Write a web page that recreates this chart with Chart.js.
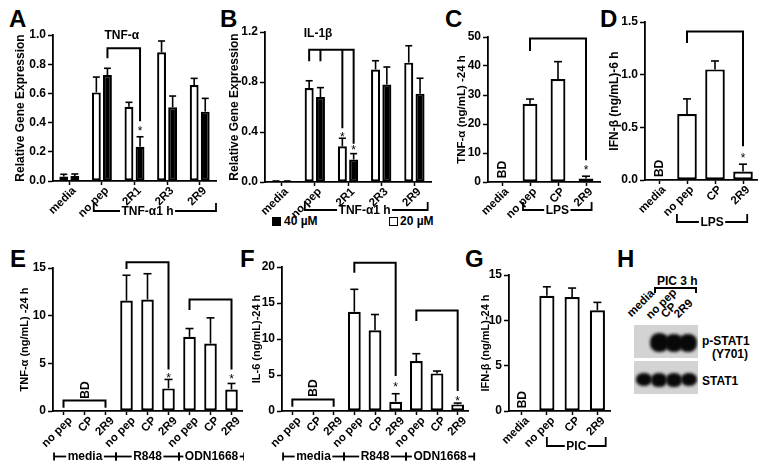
<!DOCTYPE html>
<html><head><meta charset="utf-8">
<script src="https://cdn.jsdelivr.net/npm/chart.js@4.4.1/dist/chart.umd.min.js"></script>
<style>
html,body{margin:0;padding:0;background:#fff;}
body{position:relative;width:762px;height:472px;overflow:hidden;font-family:"Liberation Sans",Arial,sans-serif;font-weight:bold;color:#000;}
canvas{position:absolute;}
.pl{position:absolute;font-size:24px;line-height:24px;font-weight:bold;}
.tx{position:absolute;font-size:12px;line-height:14px;font-weight:bold;white-space:nowrap;}
.rt{position:absolute;font-size:11.5px;line-height:12px;font-weight:bold;white-space:nowrap;transform-origin:0 100%;transform:rotate(-45deg);}
.blot{position:absolute;background:#d3d3d3;overflow:hidden;}
.band{position:absolute;background:#080808;border-radius:45%;filter:blur(1.5px);}
.ln{position:absolute;background:#000;}
.sq{position:absolute;width:7px;height:7px;border:1px solid #000;}
</style></head><body>
<div class="pl" style="left:9px;top:7px">A</div>
<div class="pl" style="left:220px;top:7px">B</div>
<div class="pl" style="left:445px;top:7px">C</div>
<div class="pl" style="left:600px;top:7px">D</div>
<div class="pl" style="left:10px;top:247px">E</div>
<div class="pl" style="left:240px;top:247px">F</div>
<div class="pl" style="left:465px;top:247px">G</div>
<div class="pl" style="left:617px;top:247px">H</div>

<!-- legend -->
<div class="sq" style="left:272px;top:217px;background:#000"></div>
<div class="tx" style="left:284px;top:214px">40 µM</div>
<div class="sq" style="left:389px;top:217px;background:#fff"></div>
<div class="tx" style="left:400px;top:214px">20 µM</div>

<!-- panel H (western blot image) -->
<div class="tx" style="left:657px;top:274px">PIC 3 h</div>
<div class="ln" style="left:654px;top:287px;width:43px;height:2px"></div>
<div class="ln" style="left:654px;top:287px;width:2px;height:6px"></div>
<div class="ln" style="left:695px;top:287px;width:2px;height:6px"></div>
<div class="rt" style="left:633px;top:307px">media</div>
<div class="rt" style="left:652px;top:309px">no pep</div>
<div class="rt" style="left:667px;top:308px">CP</div>
<div class="rt" style="left:680px;top:308px">2R9</div>
<div class="blot" style="left:634px;top:325px;width:64px;height:33px">
  <div class="band" style="left:16px;top:8px;width:19px;height:19px"></div>
  <div class="band" style="left:31px;top:9px;width:18px;height:18px"></div>
  <div class="band" style="left:45px;top:9px;width:18px;height:18px"></div>
</div>
<div class="blot" style="left:634px;top:361px;width:64px;height:33px">
  <div class="band" style="left:2px;top:12px;width:16px;height:13px"></div>
  <div class="band" style="left:17px;top:12px;width:16px;height:14px"></div>
  <div class="band" style="left:32px;top:12px;width:16px;height:14px"></div>
  <div class="band" style="left:47px;top:12px;width:16px;height:13px"></div>
</div>
<div class="tx" style="left:702px;top:334px">p-STAT1</div>
<div class="tx" style="left:712px;top:347px">(Y701)</div>
<div class="tx" style="left:702px;top:374px">STAT1</div>

<script>
// ---------------- DATA ----------------
// Panel A: TNF-α relative gene expression
const catsA = ['media', 'no pep', '2R1', '2R3', '2R9'];
const a20 = [0.03, 0.607, 0.509, 0.881, 0.658];
const a20Err = [0.016, 0.105, 0.03, 0.078, 0.045];
const a40 = [0.034, 0.726, 0.235, 0.505, 0.475];
const a40Err = [0.014, 0.046, 0.068, 0.077, 0.091];

// Panel B: IL-1β relative gene expression
const catsB = ['media', 'no pep', '2R1', '2R3', '2R9'];
const b20 = [0.005, 0.752, 0.286, 0.90, 0.955];
const b20Err = [0.003, 0.058, 0.064, 0.07, 0.135];
const b40 = [0.005, 0.68, 0.18, 0.78, 0.707];
const b40Err = [0.003, 0.075, 0.047, 0.14, 0.123];

// Panel C: TNF-α (ng/mL) 24 h, LPS
const catsC = ['media', 'no pep', 'CP', '2R9'];
const cVals = [null, 27.0, 35.5, 1.2];
const cErr = [null, 1.6, 6.0, 0.8];

// Panel D: IFN-β (ng/mL) 6 h, LPS
const catsD = ['media', 'no pep', 'CP', '2R9'];
const dVals = [null, 0.626, 1.05, 0.08];
const dErr = [null, 0.144, 0.08, 0.07];

// Panel E: TNF-α (ng/mL) 24 h
const catsE = ['no pep', 'CP', '2R9', 'no pep', 'CP', '2R9', 'no pep', 'CP', '2R9'];
const eVals = [null, null, null, 11.58, 11.69, 2.37, 7.78, 7.08, 2.26];
const eErr = [null, null, null, 2.66, 2.71, 0.94, 0.87, 2.69, 0.63];

// Panel F: IL-6 (ng/mL) 24 h
const catsF = ['no pep', 'CP', '2R9', 'no pep', 'CP', '2R9', 'no pep', 'CP', '2R9'];
const fVals = [null, null, null, 13.79, 11.2, 1.29, 6.94, 5.22, 0.92];
const fErr = [null, null, null, 3.11, 2.2, 1.11, 1.02, 0.33, 0.18];

// Panel G: IFN-β (ng/mL) 24 h, PIC
const catsG = ['media', 'no pep', 'CP', '2R9'];
const gVals = [null, 12.7, 12.56, 11.1];
const gErr = [null, 1.0, 1.0, 0.88];

const groupsEF = ['media', 'R848', 'ODN1668'];

// ---------------- RENDERING ----------------
Chart.defaults.font.family = '"Liberation Sans", Arial, sans-serif';
Chart.defaults.font.weight = 'bold';
Chart.defaults.font.size = 12;
Chart.defaults.color = '#000';

const FONT = (s, w) => `${w || 'bold'} ${s}px "Liberation Sans", Arial, sans-serif`;

const annotPlugin = {
  id: 'annot',
  afterDraw(chart) {
    const o = chart.options.plugins.annot;
    if (!o) return;
    const ctx = chart.ctx, xs = chart.scales.x, ys = chart.scales.y;
    const cw = xs.getPixelForValue(1) - xs.getPixelForValue(0);
    const px = i => xs.getPixelForValue(i);
    const py = v => ys.getPixelForValue(v);
    const bx = (ds, i) => chart.getDatasetMeta(ds).data[i].x;
    const base = chart.chartArea.bottom;
    ctx.save();
    ctx.strokeStyle = '#000'; ctx.fillStyle = '#000'; ctx.lineJoin = 'miter'; ctx.lineCap = 'butt';
    const line = (pts, w) => {
      ctx.lineWidth = w || 1.6;
      ctx.beginPath(); ctx.moveTo(pts[0][0], pts[0][1]);
      for (let k = 1; k < pts.length; k++) ctx.lineTo(pts[k][0], pts[k][1]);
      ctx.stroke();
    };
    // error bars (upper)
    chart.data.datasets.forEach((d, di) => {
      if (!d.errors) return;
      chart.getDatasetMeta(di).data.forEach((el, i) => {
        const v = d.data[i], e = d.errors[i];
        if (v == null || e == null) return;
        const x = el.x, yt = py(v + e), yb = py(v);
        line([[x, yb], [x, yt]], 1.6);
        line([[x - o.cap, yt], [x + o.cap, yt]], 1.6);
      });
    });
    // significance brackets
    (o.brackets || []).forEach(b => {
      const legs = b.legs.map(l => ({x: bx(l[0], l[1]), y: py(l[2])})).sort((p, q) => p.x - q.x);
      const yt = py(b.top);
      const f = legs[0], l = legs[legs.length - 1];
      line([[f.x, f.y], [f.x, yt], [l.x, yt], [l.x, l.y]], 2);
      for (let k = 1; k < legs.length - 1; k++) line([[legs[k].x, yt], [legs[k].x, legs[k].y]], 2);
    });
    // asterisks
    const ss = o.starSize || 12;
    ctx.font = FONT(ss, 'normal'); ctx.textAlign = 'center'; ctx.textBaseline = 'alphabetic';
    (o.stars || []).forEach(s => ctx.fillText('*', bx(s[0], s[1]), py(s[2]) + 0.58 * ss));
    // BD labels
    const bd = (x, y) => {
      ctx.save(); ctx.translate(x, y); ctx.rotate(-Math.PI / 2);
      ctx.font = FONT(12); ctx.textAlign = 'center'; ctx.textBaseline = 'middle';
      ctx.fillText('BD', 0, 1); ctx.restore();
    };
    (o.bd || []).forEach(b => bd(px(b[0]), py(b[1])));
    if (o.bdBr) {
      const b = o.bdBr;
      const x0 = px(b.i0), x1 = px(b.i1), y = py(b.v), yl = py(b.legV);
      line([[x0, yl], [x0, y], [x1, y], [x1, yl]], 2);
      bd(px(b.textXi), py(b.textV));
    }
    // panel title
    if (o.title) {
      ctx.font = FONT(12); ctx.textAlign = 'center'; ctx.textBaseline = 'middle';
      ctx.fillText(o.title.text, px(o.title.xi), py(o.title.v));
    }
    // group labels under the axis
    if (o.groups) {
      const g = o.groups, y = base + g.dy;
      ctx.font = FONT(g.size || 12); ctx.textAlign = 'center'; ctx.textBaseline = 'middle';
      const segs = g.segs.map((s, k) => {
        let x0 = px(s.i0) + (s.lo || 0) * cw, x1 = px(s.i1) + (s.ro || 0) * cw;
        if (g.style === 'sep') {
          if (k > 0) x0 = (px(g.segs[k - 1].i1) + px(s.i0)) / 2;
          if (k < g.segs.length - 1) x1 = (px(s.i1) + px(g.segs[k + 1].i0)) / 2;
        }
        return {x0, x1, text: s.text, tx: s.tx};
      });
      segs.forEach(s => {
        const tw = ctx.measureText(s.text).width;
        const cx = s.tx != null ? px(s.tx) : (s.x0 + s.x1) / 2, gap = 1.5;
        if (g.style === 'up') {
          line([[s.x0, y - g.leg], [s.x0, y], [cx - tw / 2 - gap, y]], 1.8);
          line([[cx + tw / 2 + gap, y], [s.x1, y], [s.x1, y - g.leg]], 1.8);
        } else {
          line([[s.x0, y], [cx - tw / 2 - gap, y]], 1.8);
          line([[cx + tw / 2 + gap, y], [s.x1, y]], 1.8);
          line([[s.x0, y - g.leg], [s.x0, y + g.leg]], 1.8);
          line([[s.x1, y - g.leg], [s.x1, y + g.leg]], 1.8);
        }
        ctx.fillText(s.text, cx, y + 0.5);
      });
    }
    ctx.restore();
  }
};

function makeChart(cfg) {
  const {L, T, R, B, yW, padT, xH, padR} = cfg.box;
  const cv = document.createElement('canvas');
  const w = R - L + yW + padR, h = B - T + padT + xH;
  cv.width = w; cv.height = h;
  cv.style.left = (L - yW) + 'px'; cv.style.top = (T - padT) + 'px';
  cv.style.width = w + 'px'; cv.style.height = h + 'px';
  document.body.appendChild(cv);
  const datasets = cfg.series.map(s => ({
    data: s.data, errors: s.err,
    backgroundColor: s.color, borderColor: '#000', borderWidth: 2.2, borderSkipped: false,
    categoryPercentage: cfg.catPct, barPercentage: cfg.barPct
  }));
  new Chart(cv, {
    type: 'bar',
    data: {labels: cfg.labels, datasets},
    options: {
      responsive: false, animation: false, devicePixelRatio: 1,
      layout: {padding: {left: 0, top: padT, right: padR, bottom: 0}},
      plugins: {legend: {display: false}, tooltip: {enabled: false}, annot: cfg.annot},
      scales: {
        x: {
          grid: {display: true, drawOnChartArea: false, offset: false, tickLength: 4, tickWidth: 1.5, tickColor: '#000'},
          border: {display: true, color: '#000', width: 1.8},
          ticks: {autoSkip: false, maxRotation: 45, minRotation: 45, padding: -1, labelOffset: cfg.lOff,
                  font: {size: cfg.xFont, weight: 'bold'}},
          afterFit(s) { s.height = xH; s.paddingLeft = 0; s.paddingRight = 0; }
        },
        y: {
          min: 0, max: cfg.ymax,
          ticks: {stepSize: cfg.step, padding: 2, font: {size: 12, weight: 'bold'},
                  callback: v => cfg.dec ? Number(v).toFixed(cfg.dec) : v},
          grid: {display: true, drawOnChartArea: false, tickLength: 5, tickWidth: 1.5, tickColor: '#000'},
          border: {display: true, color: '#000', width: 1.8},
          title: {display: true, text: cfg.ytitle, padding: 0, font: {size: cfg.tFont, weight: 'bold'}},
          afterFit(s) { s.width = yW; s.paddingTop = 0; s.paddingBottom = 0; }
        }
      }
    },
    plugins: [annotPlugin]
  });
}

// A
makeChart({
  box: {L: 53, T: 35, R: 216, B: 181, yW: 40, padT: 32, xH: 42, padR: 2},
  labels: catsA, ymax: 1.0, step: 0.2, dec: 1, ytitle: 'Relative Gene Expression', tFont: 12, xFont: 11.5, lOff: 5,
  catPct: 0.68, barPct: 0.8,
  series: [{data: a20, err: a20Err, color: '#fff'}, {data: a40, err: a40Err, color: '#000'}],
  annot: {
    cap: 3.5,
    title: {text: 'TNF-α', xi: 1.61, v: 0.993},
    brackets: [{top: 0.909, legs: [[1, 1, 0.84], [1, 2, 0.41]]}],
    stars: [[1, 2, 0.36]],
    groups: {dy: 30, leg: 8, style: 'up', segs: [{i0: 1, i1: 4, lo: -0.25, ro: 0.5, tx: 2.4, text: 'TNF-α1 h'}]}
  }
});
// B
makeChart({
  box: {L: 265, T: 32, R: 431, B: 182, yW: 38, padT: 30, xH: 42, padR: 2},
  labels: catsB, ymax: 1.2, step: 0.4, dec: 1, ytitle: 'Relative Gene Expression', tFont: 12, xFont: 11.5, lOff: 5,
  catPct: 0.68, barPct: 0.8,
  series: [{data: b20, err: b20Err, color: '#fff'}, {data: b40, err: b40Err, color: '#000'}],
  annot: {
    cap: 3.5,
    title: {text: 'IL-1β', xi: 1.1, v: 1.19},
    brackets: [{top: 1.059, legs: [[0, 1, 0.966], [1, 1, 0.966], [0, 2, 0.43], [1, 2, 0.307]]}],
    stars: [[0, 2, 0.385], [1, 2, 0.28]],
    groups: {dy: 28, leg: 8, style: 'up', segs: [{i0: 1, i1: 4, lo: -0.3, ro: 0.4, tx: 2.5, text: 'TNF-α1 h'}]}
  }
});
// C
makeChart({
  box: {L: 488, T: 37, R: 600, B: 182, yW: 33, padT: 30, xH: 42, padR: 2},
  labels: catsC, ymax: 50, step: 10, ytitle: 'TNF-α (ng/mL) -24 h', tFont: 11.5, xFont: 11.5, lOff: 5,
  catPct: 1, barPct: 0.53,
  series: [{data: cVals, err: cErr, color: '#fff'}],
  annot: {
    cap: 4,
    bd: [[0, 4.3]],
    brackets: [{top: 49.5, legs: [[0, 1, 45.2], [0, 3, 7.5]]}],
    stars: [[0, 3, 5.0]],
    groups: {dy: 28, leg: 8, style: 'up', segs: [{i0: 1, i1: 3, lo: -0.25, ro: 0.2, text: 'LPS'}]}
  }
});
// D
makeChart({
  box: {L: 645, T: 22, R: 757, B: 180, yW: 38, padT: 18, xH: 48, padR: 3},
  labels: catsD, ymax: 1.5, step: 0.5, dec: 1, ytitle: 'IFN-β (ng/mL)-6 h', tFont: 12, xFont: 11.5, lOff: 5,
  catPct: 1, barPct: 0.7,
  series: [{data: dVals, err: dErr, color: '#fff'}],
  annot: {
    cap: 4,
    bd: [[0, 0.11]],
    brackets: [{top: 1.41, legs: [[0, 1, 1.30], [0, 3, 0.32]]}],
    stars: [[0, 3, 0.235]],
    groups: {dy: 42, leg: 8, style: 'up', segs: [{i0: 1, i1: 3, lo: -0.36, ro: 0.15, text: 'LPS'}]}
  }
});
// E
makeChart({
  box: {L: 53, T: 268, R: 242, B: 411, yW: 35, padT: 14, xH: 58, padR: 2},
  labels: catsE, ymax: 15, step: 5, ytitle: 'TNF-α (ng/mL) -24 h', tFont: 11, xFont: 11.5, lOff: 7,
  catPct: 1, barPct: 0.6,
  series: [{data: eVals, err: eErr, color: '#fff'}],
  annot: {
    cap: 4,
    brackets: [{top: 15.6, legs: [[0, 3, 14.9], [0, 5, 4.35]]}, {top: 11.7, legs: [[0, 6, 10.6], [0, 8, 4.35]]}],
    stars: [[0, 5, 3.8], [0, 8, 3.7]],
    bdBr: {i0: 0, i1: 2, v: 1.1, legV: 0.35, textV: 2.2, textXi: 1},
    groups: {dy: 45.5, leg: 4, style: 'sep', segs: [
      {i0: 0, i1: 2, lo: -0.45, text: groupsEF[0]}, {i0: 3, i1: 5, text: groupsEF[1]}, {i0: 6, i1: 8, ro: 0.6, text: groupsEF[2]}]}
  }
});
// F
makeChart({
  box: {L: 282, T: 267, R: 468, B: 411, yW: 32, padT: 14, xH: 58, padR: 8},
  labels: catsF, ymax: 20, step: 5, ytitle: 'IL-6 (ng/mL)-24 h', tFont: 11, xFont: 11.5, lOff: 7,
  catPct: 1, barPct: 0.62,
  series: [{data: fVals, err: fErr, color: '#fff'}],
  annot: {
    cap: 4,
    brackets: [{top: 20.6, legs: [[0, 3, 19.2], [0, 5, 4.86]]}, {top: 13.97, legs: [[0, 6, 12.5], [0, 8, 2.78]]}],
    stars: [[0, 5, 3.8], [0, 8, 1.85]],
    bdBr: {i0: 0, i1: 2, v: 1.6, legV: 0.6, textV: 3.2, textXi: 1},
    groups: {dy: 45.5, leg: 4, style: 'sep', segs: [
      {i0: 0, i1: 2, lo: -0.45, text: groupsEF[0]}, {i0: 3, i1: 5, text: groupsEF[1]}, {i0: 6, i1: 8, ro: 0.8, text: groupsEF[2]}]}
  }
});
// G
makeChart({
  box: {L: 509, T: 275, R: 610, B: 411, yW: 30, padT: 10, xH: 48, padR: 2},
  labels: catsG, ymax: 15, step: 5, ytitle: 'IFN-β (ng/mL)-24 h', tFont: 11, xFont: 11.5, lOff: 6,
  catPct: 1, barPct: 0.6,
  series: [{data: gVals, err: gErr, color: '#fff'}],
  annot: {
    cap: 4,
    bd: [[0, 1.25]],
    groups: {dy: 35, leg: 9, style: 'up', segs: [{i0: 1, i1: 3, lo: 0, ro: 0.33, text: 'PIC'}]}
  }
});
</script>
</body></html>
